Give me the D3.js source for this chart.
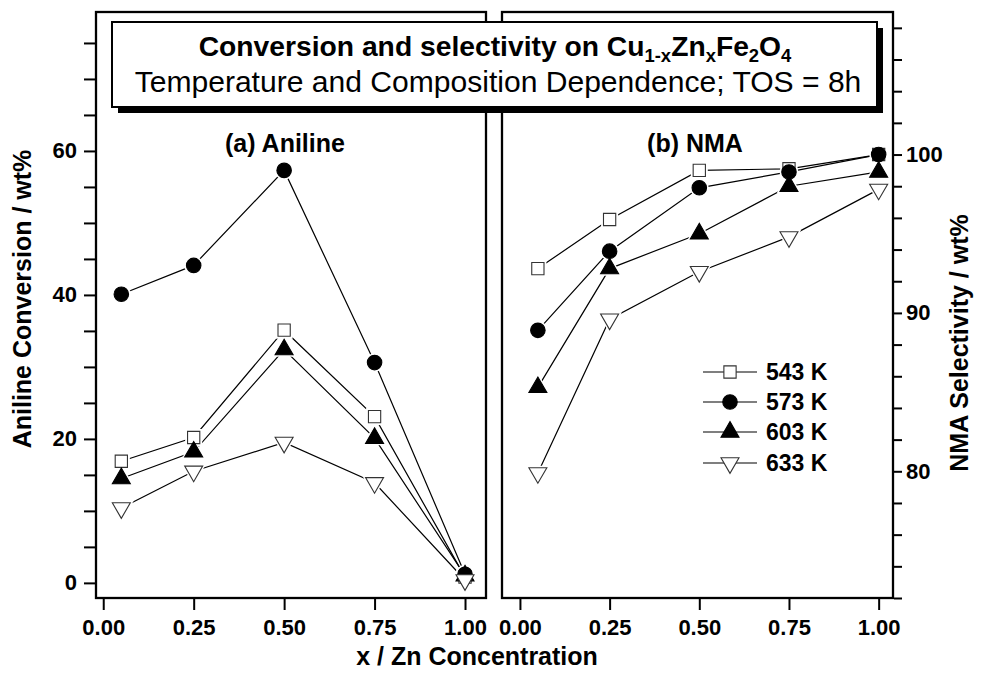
<!DOCTYPE html>
<html>
<head>
<meta charset="utf-8">
<script src="https://cdn.jsdelivr.net/npm/d3@7"></script>
<style>
  html, body { margin: 0; padding: 0; background: #fff; }
  svg { display: block; font-family: "Liberation Sans", Arial, sans-serif; }
</style>
</head>
<body>
<svg id="chart" width="981" height="673"></svg>
<script>
// Zn content x in Cu(1-x)Zn(x)Fe2O4
const xValues = [0.05, 0.25, 0.5, 0.75, 1.0];
const temperatures = ["543 K", "573 K", "603 K", "633 K"];
const markerTypes = ["square", "circle", "triangle", "invtriangle"];

// (a) aniline conversion, wt%
const conv543 = [16.9, 20.2, 35.1, 23.1, 0.8];
const conv573 = [40.1, 44.1, 57.3, 30.6, 1.2];
const conv603 = [14.5, 18.2, 32.4, 20.1, 1.0];
const conv633 = [10.4, 15.5, 19.5, 13.9, 0.4];

// (b) NMA selectivity, wt%
const sel543 = [92.8, 95.9, 99.0, 99.1, 100.0];
const sel573 = [88.9, 93.9, 97.9, 98.9, 100.0];
const sel603 = [85.3, 92.8, 95.0, 98.0, 98.9];
const sel633 = [79.9, 89.6, 92.6, 94.8, 97.8];

const xTicks = [0, 0.25, 0.5, 0.75, 1.0];
const convTicks = d3.range(0, 80, 5);
const convLabels = [0, 20, 40, 60];
const selTicks = d3.range(72, 109, 2);
const selLabels = [80, 90, 100];

const svg = d3.select("#chart");

const xL = d3.scaleLinear().domain([-0.02, 1.058]).range([96, 486]);
const xR = d3.scaleLinear().domain([-0.05, 1.04]).range([502, 893]);
const yL = d3.scaleLinear().domain([-2.1, 79.3]).range([598, 12]);
const yR = d3.scaleLinear().domain([72, 109]).range([598, 12]);

const convSeries = [conv543, conv573, conv603, conv633];
const selSeries = [sel543, sel573, sel603, sel633];

function symbolPath(type) {
  if (type === "square") return d3.symbol(d3.symbolSquare, 150)();
  if (type === "circle") return d3.symbol(d3.symbolCircle, 165)();
  return d3.symbol(d3.symbolTriangle, 140)();
}
function symbolHalo(type) {
  if (type === "square") return d3.symbol(d3.symbolSquare, 290)();
  if (type === "circle") return d3.symbol(d3.symbolCircle, 280)();
  return d3.symbol(d3.symbolTriangle, 260)();
}
const filled = t => t === "circle" || t === "triangle";
const rot = t => t === "invtriangle" ? " rotate(180)" : "";

function drawPanel(x, y, series) {
  const g = svg.append("g");
  const line = d3.line().x((d, i) => x(xValues[i])).y(d => y(d));
  series.forEach(vals => {
    g.append("path").attr("d", line(vals))
      .attr("fill", "none").attr("stroke", "#000").attr("stroke-width", 1.2);
  });
  series.forEach((vals, s) => {
    const t = markerTypes[s];
    g.selectAll(null).data(vals).enter().append("path")
      .attr("d", symbolHalo(t))
      .attr("transform", (d, i) => `translate(${x(xValues[i])},${y(d)})${rot(t)}`)
      .attr("fill", "#fff");
  });
  series.forEach((vals, s) => {
    const t = markerTypes[s];
    g.selectAll(null).data(vals).enter().append("path")
      .attr("d", symbolPath(t))
      .attr("transform", (d, i) => `translate(${x(xValues[i])},${y(d)})${rot(t)}`)
      .attr("fill", filled(t) ? "#000" : "#fff")
      .attr("stroke", filled(t) ? "#000" : "#333")
      .attr("stroke-width", 1.1);
  });
}

drawPanel(xL, yL, convSeries);
drawPanel(xR, yR, selSeries);

// frames
[[xL, yL], [xR, yR]].forEach(([x, y]) => {
  svg.append("rect")
    .attr("x", x.range()[0]).attr("y", y.range()[1])
    .attr("width", x.range()[1] - x.range()[0])
    .attr("height", y.range()[0] - y.range()[1])
    .attr("fill", "none").attr("stroke", "#000").attr("stroke-width", 2.3);
});

function styleAxis(g) {
  g.select(".domain").remove();
  g.selectAll(".tick line").attr("stroke", "#000").attr("stroke-width", 2);
  g.selectAll(".tick text")
    .attr("fill", "#000")
    .style("font-size", "22px").style("font-weight", "bold");
}

// bottom axes
[xL, xR].forEach(x => {
  svg.append("g").attr("transform", "translate(0,599)")
    .call(d3.axisBottom(x).tickValues(xTicks).tickSize(11).tickPadding(9)
      .tickFormat(d3.format(".2f")))
    .call(styleAxis);
});

// left axis
svg.append("g").attr("transform", "translate(95,0)")
  .call(d3.axisLeft(yL).tickValues(convTicks).tickSize(11).tickPadding(7)
    .tickFormat(d => convLabels.includes(d) ? d : ""))
  .call(styleAxis);

// right axis
svg.append("g").attr("transform", "translate(894,0)")
  .call(d3.axisRight(yR).tickValues(selTicks).tickSize(8).tickPadding(4)
    .tickFormat(d => selLabels.includes(d) ? d : ""))
  .call(styleAxis);

// axis titles
svg.append("text")
  .attr("transform", "translate(31,299) rotate(-90)")
  .attr("text-anchor", "middle")
  .style("font-size", "25px").style("font-weight", "bold")
  .text("Aniline Conversion / wt%");

svg.append("text")
  .attr("transform", "translate(968,343) rotate(-90)")
  .attr("text-anchor", "middle")
  .style("font-size", "25px").style("font-weight", "bold")
  .text("NMA Selectivity / wt%");

svg.append("text")
  .attr("x", 477).attr("y", 665)
  .attr("text-anchor", "middle")
  .style("font-size", "25px").style("font-weight", "bold")
  .text("x / Zn Concentration");

// panel labels
svg.append("text").attr("x", 285).attr("y", 152).attr("text-anchor", "middle")
  .style("font-size", "25px").style("font-weight", "bold").text("(a) Aniline");
svg.append("text").attr("x", 695).attr("y", 152).attr("text-anchor", "middle")
  .style("font-size", "25px").style("font-weight", "bold").text("(b) NMA");

// legend
const legendRows = [372, 402, 432, 463];
const lg = svg.append("g");
temperatures.forEach((name, i) => {
  const yy = legendRows[i];
  const t = markerTypes[i];
  lg.append("line").attr("x1", 703).attr("x2", 757).attr("y1", yy).attr("y2", yy)
    .attr("stroke", "#000").attr("stroke-width", 1.2);
  lg.append("path").attr("d", symbolPath(t))
    .attr("transform", `translate(730,${yy})${rot(t)}`)
    .attr("fill", filled(t) ? "#000" : "#fff")
    .attr("stroke", filled(t) ? "#000" : "#333").attr("stroke-width", 1.1);
  lg.append("text").attr("x", 766).attr("y", yy + 8)
    .style("font-size", "23px").style("font-weight", "bold").text(name);
});

// title box with drop shadow
const box = { x: 112, y: 22, w: 765, h: 85 };
svg.append("rect").attr("x", box.x + 6).attr("y", box.y + 6)
  .attr("width", box.w).attr("height", box.h).attr("fill", "#000");
svg.append("rect").attr("x", box.x).attr("y", box.y)
  .attr("width", box.w).attr("height", box.h)
  .attr("fill", "#fff").attr("stroke", "#000").attr("stroke-width", 2);

const t1 = svg.append("text").attr("x", 495).attr("y", 56).attr("text-anchor", "middle")
  .style("font-size", "23px").style("font-weight", "bold");
t1.append("tspan").text("Conversion and selectivity on Cu");
t1.append("tspan").attr("dy", 6).style("font-size", "15px").text("1-x");
t1.append("tspan").attr("dy", -6).text("Zn");
t1.append("tspan").attr("dy", 6).style("font-size", "15px").text("x");
t1.append("tspan").attr("dy", -6).text("Fe");
t1.append("tspan").attr("dy", 6).style("font-size", "15px").text("2");
t1.append("tspan").attr("dy", -6).text("O");
t1.append("tspan").attr("dy", 6).style("font-size", "15px").text("4");

const t2 = svg.append("text").attr("x", 498).attr("y", 92).attr("text-anchor", "middle")
  .style("font-size", "25px")
  .text("Temperature and Composition Dependence; TOS = 8h");

// fit the two title lines to the box width
function fitWidth(sel, target) {
  const w = sel.node().getComputedTextLength();
  const fs = parseFloat(sel.style("font-size"));
  const k = target / w;
  sel.style("font-size", (fs * k) + "px");
  sel.selectAll("tspan").each(function () {
    const s = d3.select(this);
    const f = this.style.fontSize;
    if (f) s.style("font-size", (parseFloat(f) * k) + "px");
  });
}
fitWidth(t1, 593);
fitWidth(t2, 727);
</script>
</body>
</html>
